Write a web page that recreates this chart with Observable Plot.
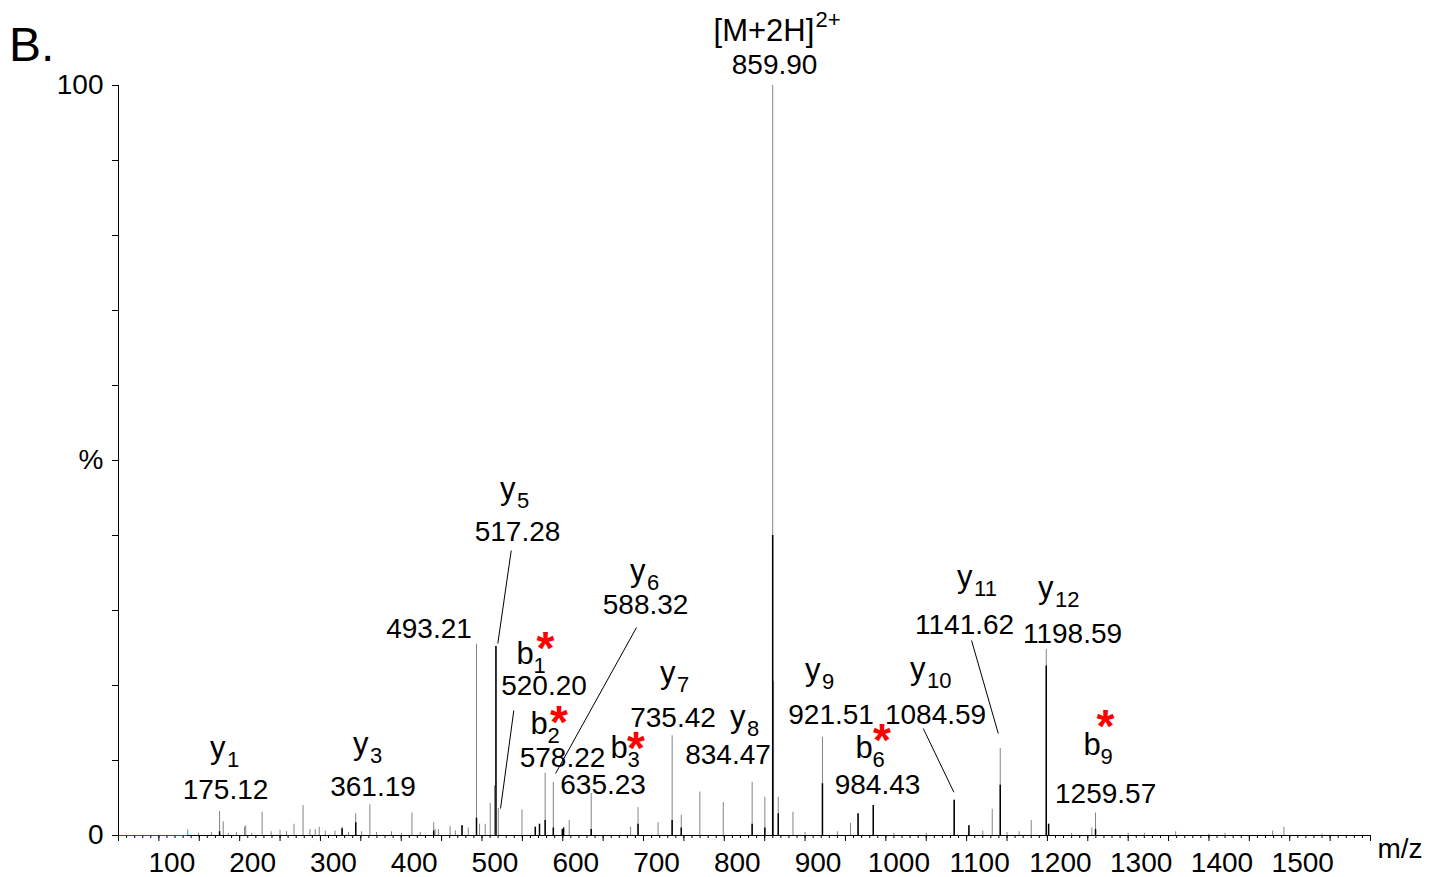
<!DOCTYPE html>
<html><head><meta charset="utf-8">
<script src="https://cdn.jsdelivr.net/npm/d3@7"></script>
<script src="https://cdn.jsdelivr.net/npm/@observablehq/plot@0.6"></script>
<style>
body{margin:0;background:#fff;}
#wrap{position:relative;width:1432px;height:877px;font-family:"Liberation Sans",Arial,sans-serif;}
#panel{position:absolute;left:9px;top:21px;font-size:48px;line-height:48px;color:#000;}
svg{overflow:visible;}
</style></head><body>
<div id="wrap"><div id="chart"></div><div id="panel">B.</div></div>
<script>
// ---- axes ----
const xDomain = [50, 1600];
const yDomain = [0, 100];
const xMajorTicks = [100,200,300,400,500,600,700,800,900,1000,1100,1200,1300,1400,1500];
const xTickLabels = ["100","200","300","400","500","600","700","800","900","1000","1100","1200","1300","1400","1500"];
const yLabelTicks = [0, 50, 100];
const yTickLabels = ["0", "%", "100"];
const redSegment = [50, 135];

// ---- spectrum peaks (m/z, relative intensity %, dark core %) ----
const peakMz = [135.7,149,165,175.12,179.7,186,196,206,207.5,215,227.8,239,250,258,267.3,278.5,287,293.5,298.5,306,318,326.8,334.8,343.7,351,361.19,369.5,388,400.4,413.3,423.5,440.2,442,446,460.5,467,475.3,483,493.21,497,504,510.2,515.5,517.28,520.2,549.5,566,571.2,578.22,588.32,599.5,601,608,635.23,684,693.2,718,735.42,746.7,769.7,798.7,834.47,850.2,859.90,861,866.8,885,900,921.51,940,956.3,965.6,984.43,1010,1050,1084.59,1102.8,1120,1131.7,1141.62,1150,1165,1180,1198.59,1201.5,1230,1255,1259.57,1300,1320,1358.8,1400,1420,1478.8,1492.8,1540];
const peakInt = [0.75,0.3,0.4,3.2,1.8,0.3,0.4,1.1,1.3,0.3,3.1,0.5,0.7,0.5,1.5,4.0,0.8,0.8,1.1,0.6,0.6,1.1,0.4,2.9,0.5,4.1,0.4,0.5,0.3,3.0,0.4,1.7,0.8,0.8,1.2,0.6,1.3,1.0,25.5,1.5,1.5,4.3,6.6,25.2,3.6,3.4,1.1,1.5,8.3,7.1,0.8,1.0,2.0,5.6,1.1,3.7,1.7,13.3,2.7,5.8,4.4,7.1,5.1,100,20.5,5.1,3.1,0.4,13.1,0.5,1.6,2.9,4.0,0.3,0.3,4.7,1.3,0.6,3.5,11.6,0.4,0.5,2.0,24.8,1.5,0.3,1.0,3.0,0.3,0.3,0.5,0.2,0.3,0.6,1.1,0.2];
const peakDark = [0,0,0,0.5,0,0,0,0,0,0,0,0,0,0,0,0,0,0,0,0,0,0.9,0,1.7,0,0,0,0,0,0,0,0.6,0,0,0,0,1.3,0,2.3,0,0,0,0,25.2,0,0,1.1,1.5,2.0,1.0,0.8,1.0,0,0.8,0,1.5,0,2.0,1.0,0,0,1.5,1.0,40,0,2.9,0,0,6.9,0,0,2.9,4.0,0,0,4.7,1.3,0,0,6.7,0,0,0,22.6,1.5,0,0,0.8,0,0,0,0,0,0,0,0];

// ---- annotations (data coordinates: m/z, %) ----
const ionLabels = [
  {ion:"y", sub:"1",  lx:163.3,  ly:10.4,  value:"175.12",  vx:182.5,  vy:4.93},
  {ion:"y", sub:"3",  lx:340.3,  ly:10.93, value:"361.19",  vx:365.1,  vy:5.33},
  {ion:"",  sub:"",   lx:434.4,  ly:26.27, value:"493.21",  vx:434.4,  vy:26.27},
  {ion:"y", sub:"5",  lx:522.3,  ly:44.93, value:"517.28",  vx:544.0,  vy:39.33},
  {ion:"b", sub:"1",  lx:542.8,  ly:22.93, value:"520.20",  vx:576.8,  vy:18.67},
  {ion:"b", sub:"2",  lx:560.1,  ly:13.6,  value:"578.22",  vx:599.7,  vy:9.07},
  {ion:"y", sub:"6",  lx:683.3,  ly:34.0,  value:"588.32",  vx:702.5,  vy:29.6},
  {ion:"b", sub:"3",  lx:659.2,  ly:10.4,  value:"635.23",  vx:649.9,  vy:5.6},
  {ion:"y", sub:"7",  lx:720.4,  ly:20.4,  value:"735.42",  vx:736.5,  vy:14.53},
  {ion:"y", sub:"8",  lx:807.1,  ly:14.53, value:"834.47",  vx:804.6,  vy:9.47},
  {ion:"y", sub:"9",  lx:900.0,  ly:20.67, value:"921.51",  vx:932.2,  vy:14.93},
  {ion:"b", sub:"6",  lx:962.5,  ly:10.4,  value:"984.43",  vx:989.7,  vy:5.6},
  {ion:"y", sub:"10", lx:1030.0, ly:20.93, value:"1084.59", vx:1061.5, vy:14.93},
  {ion:"y", sub:"11", lx:1088.2, ly:33.07, value:"1141.62", vx:1097.5, vy:26.93},
  {ion:"y", sub:"12", lx:1188.4, ly:31.73, value:"1198.59", vx:1231.1, vy:25.73},
  {ion:"b", sub:"9",  lx:1244.8, ly:10.8,  value:"1259.57", vx:1272.1, vy:4.27}
];
const precursor = [{ion:"[M+2H]", sup:"2+", lx:786.7, ly:105.9, value:"859.90", vx:862.2, vy:101.5}];
const starMarks = [
  {sx:578.7, sy:22.9}, {sx:595.4, sy:13.04}, {sx:690.7, sy:9.57}, {sx:995.3, sy:10.57}, {sx:1272.0, sy:12.44}
];
const leaders = [
  {x1:536.2, y1:38.0, x2:519.6, y2:25.6},
  {x1:539.4, y1:16.67, x2:523.0, y2:3.6},
  {x1:691.3, y1:27.73, x2:591.1, y2:8.27},
  {x1:1046.3, y1:14.27, x2:1084.2, y2:5.77},
  {x1:1106.1, y1:26.0, x2:1139.2, y2:13.6}
];

const peaks = peakMz.map((mz, i) => ({mz, int: peakInt[i], dark: peakDark[i]}));
const darkPeaks = peaks.filter(d => d.dark > 0);
const xMinorTicks = d3.range(xDomain[0], xDomain[1] + 1, 10);
const xMidTicks = d3.range(xDomain[0], xDomain[1] + 1, 50);
const yMinorTicks = d3.range(yDomain[0], yDomain[1] + 1, 10);
const font = '"Liberation Sans", Arial, sans-serif';

const chart = Plot.plot({
  width: 1432, height: 877,
  marginLeft: 118, marginRight: 62, marginTop: 85, marginBottom: 42,
  style: {fontFamily: font, fontSize: "28px", color: "#000", background: "#fff", overflow: "visible"},
  x: {domain: xDomain, label: null},
  y: {domain: yDomain, label: null},
  marks: [
    Plot.ruleX(peaks, {x: "mz", y1: 0, y2: "int", stroke: "#858585", strokeWidth: 1}),
    Plot.ruleX(darkPeaks, {x: "mz", y1: 0, y2: "dark", stroke: "#000", strokeWidth: 1.5}),
    Plot.ruleY([0], {stroke: "#000", strokeWidth: 1}),
    Plot.ruleY([0], {x1: redSegment[0], x2: redSegment[1], stroke: "red", strokeWidth: 1.2}),
    Plot.ruleX([xDomain[0]], {stroke: "#000", strokeWidth: 1}),
    Plot.axisY(yMinorTicks, {tickSize: 6, fill: "none", label: null}),
    Plot.axisY(yLabelTicks, {tickSize: 0, tickPadding: 15, fontSize: 28,
      tickFormat: d => yTickLabels[yLabelTicks.indexOf(d)], label: null}),
    Plot.axisX(xMinorTicks, {tickSize: 3, fill: "none", label: null}),
    Plot.axisX(xMidTicks, {tickSize: 6, fill: "none", label: null}),
    Plot.axisX(xMajorTicks, {tickSize: 0, tickPadding: 17, dx: 13, fontSize: 28,
      tickFormat: d => xTickLabels[xMajorTicks.indexOf(d)], label: null}),
    Plot.text(["m/z"], {frameAnchor: "bottom-right", text: d => d, textAnchor: "start",
      lineAnchor: "bottom", dx: 7, dy: 22, fontSize: 28}),
    // leaders
    Plot.link(leaders, {x1: "x1", y1: "y1", x2: "x2", y2: "y2", stroke: "#000", strokeWidth: 1}),
    // ion letters
    Plot.text(ionLabels.filter(d => d.ion), {x: "lx", y: "ly", text: "ion", textAnchor: "start",
      lineAnchor: "bottom", fontSize: 31}),
    Plot.text(ionLabels.filter(d => d.sub), {x: "lx", y: "ly", text: "sub", textAnchor: "start",
      lineAnchor: "bottom", fontSize: 22, dx: 17, dy: 9}),
    Plot.text(ionLabels, {x: "vx", y: "vy", text: "value", textAnchor: "middle",
      lineAnchor: "bottom", fontSize: 28}),
    // precursor
    Plot.text(precursor, {x: "lx", y: "ly", text: "ion", textAnchor: "start", lineAnchor: "bottom", fontSize: 31}),
    Plot.text(precursor, {x: "lx", y: "ly", text: "sup", textAnchor: "start", lineAnchor: "bottom",
      fontSize: 22, dx: 102, dy: -14}),
    Plot.text(precursor, {x: "vx", y: "vy", text: "value", textAnchor: "middle", lineAnchor: "bottom", fontSize: 28}),
    // red asterisks
    Plot.text(starMarks, {x: "sx", y: "sy", text: () => "*", textAnchor: "middle", lineAnchor: "bottom",
      fontSize: 46, fontWeight: "bold", fill: "red"})
  ]
});
document.getElementById("chart").appendChild(chart);
</script>
</body></html>
